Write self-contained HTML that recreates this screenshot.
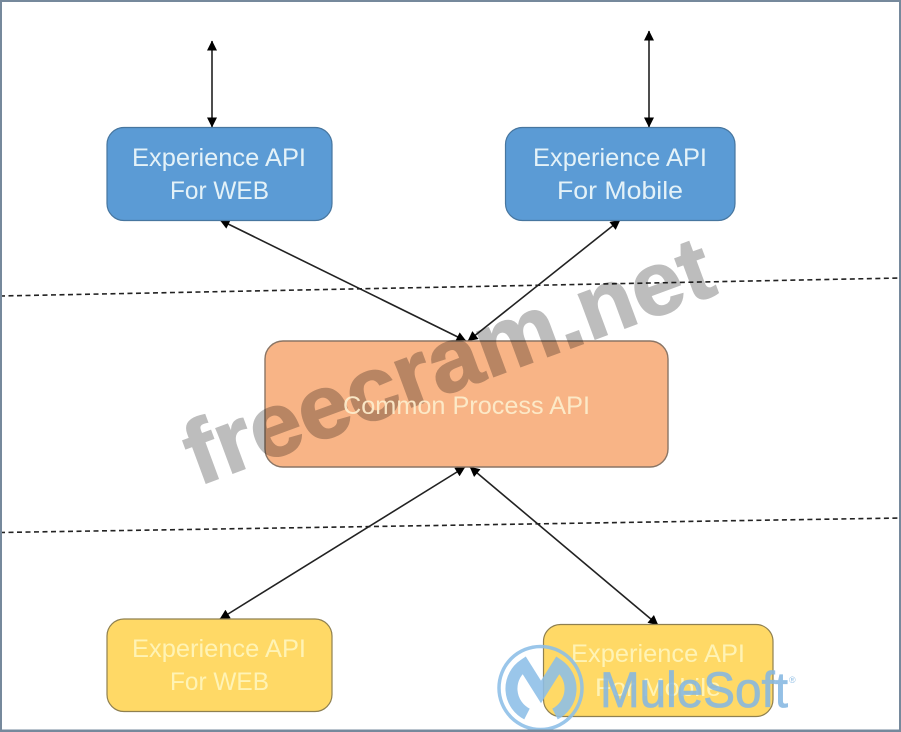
<!DOCTYPE html>
<html>
<head>
<meta charset="utf-8">
<style>
html,body{margin:0;padding:0;background:#fff;width:901px;height:732px;overflow:hidden}
svg{display:block;filter:blur(0.35px)}
text{font-family:"Liberation Sans",sans-serif}
.l{font-size:25px}
</style>
</head>
<body>
<svg width="901" height="732" viewBox="0 0 901 732" xmlns="http://www.w3.org/2000/svg">
<defs>
<marker id="a" viewBox="0 0 10 10" refX="9.5" refY="5" markerWidth="11" markerHeight="10" markerUnits="userSpaceOnUse" orient="auto-start-reverse">
<path d="M0 0L10 5L0 10Z" fill="#000"/>
</marker>
</defs>
<rect width="901" height="732" fill="#fff"/>

<!-- dashed -->
<line x1="0" y1="296" x2="901" y2="278" stroke="#222" stroke-width="1.6" stroke-dasharray="5 3.5"/>
<line x1="0" y1="532.5" x2="901" y2="518" stroke="#222" stroke-width="1.6" stroke-dasharray="5 3.5"/>

<!-- connectors -->
<g stroke="#222" stroke-width="1.6" fill="none">
<line x1="212" y1="41" x2="212" y2="127" marker-start="url(#a)" marker-end="url(#a)"/>
<line x1="649" y1="31" x2="649" y2="127" marker-start="url(#a)" marker-end="url(#a)"/>
<line x1="220" y1="220" x2="466" y2="341" marker-start="url(#a)" marker-end="url(#a)"/>
<line x1="620" y1="220" x2="468" y2="341" marker-start="url(#a)" marker-end="url(#a)"/>
<line x1="465" y1="467" x2="220" y2="619" marker-start="url(#a)" marker-end="url(#a)"/>
<line x1="470" y1="467" x2="658" y2="625" marker-start="url(#a)" marker-end="url(#a)"/>
</g>

<!-- boxes -->
<rect x="107" y="127.5" width="225" height="93" rx="17" fill="#5b9bd5" stroke="#47769f" stroke-width="1.2"/>
<rect x="505.5" y="127.5" width="229.5" height="93" rx="17" fill="#5b9bd5" stroke="#47769f" stroke-width="1.2"/>
<rect x="265" y="341" width="403" height="126" rx="18" fill="#f8b486" stroke="#8a7565" stroke-width="1.4"/>
<rect x="107" y="619" width="225" height="92.5" rx="17" fill="#ffd966" stroke="#8f8050" stroke-width="1.2"/>
<rect x="543.5" y="624.5" width="229.5" height="92" rx="17" fill="#ffd966" stroke="#8f8050" stroke-width="1.2"/>

<!-- labels -->
<g fill="#e4f2f8">
<text class="l" x="132" y="166" textLength="174" lengthAdjust="spacingAndGlyphs">Experience API</text>
<text class="l" x="170" y="199" textLength="99" lengthAdjust="spacingAndGlyphs">For WEB</text>
<text class="l" x="533" y="166" textLength="174" lengthAdjust="spacingAndGlyphs">Experience API</text>
<text class="l" x="557" y="199" textLength="126" lengthAdjust="spacingAndGlyphs">For Mobile</text>
</g>
<g fill="#fff3b5">
<text class="l" x="132" y="657" textLength="174" lengthAdjust="spacingAndGlyphs">Experience API</text>
<text class="l" x="170" y="690" textLength="99" lengthAdjust="spacingAndGlyphs">For WEB</text>
<text class="l" x="571" y="662" textLength="174" lengthAdjust="spacingAndGlyphs">Experience API</text>
<text class="l" x="595" y="696" textLength="126" lengthAdjust="spacingAndGlyphs">For Mobile</text>
</g>

<!-- freecram watermark -->
<g style="mix-blend-mode:multiply">
<text transform="translate(198 486) rotate(-20.3)" font-size="90" font-weight="700" fill="#bdbdbd" stroke="#bdbdbd" stroke-width="1.5" textLength="556" lengthAdjust="spacingAndGlyphs">freecram.net</text>
</g>
<text class="l" x="343" y="414" textLength="247" lengthAdjust="spacingAndGlyphs" fill="#fdeccb" opacity="0.95">Common Process API</text>

<!-- MuleSoft logo -->
<g opacity="0.88">
<circle cx="540.5" cy="688" r="41.5" fill="none" stroke="#8dbfe8" stroke-width="3.5"/>
<path d="M527 714A28.500 28.500 0 0 1 524 665L541 692L558 665A28.500 28.500 0 0 1 555 714" fill="none" stroke="#8dbfe8" stroke-width="12"/>
<text x="600" y="707" font-size="50" fill="#86b8e2" stroke="#86b8e2" stroke-width="0.8" textLength="188" lengthAdjust="spacingAndGlyphs">MuleSoft</text>
<text x="789" y="683" font-size="9" fill="#86b8e2">®</text>
</g>

<!-- frame -->
<rect x="1" y="1" width="899" height="729.500" fill="none" stroke="#76899c" stroke-width="2"/>
<rect x="0" y="730" width="901" height="2" fill="#76899c"/>
</svg>
</body>
</html>
